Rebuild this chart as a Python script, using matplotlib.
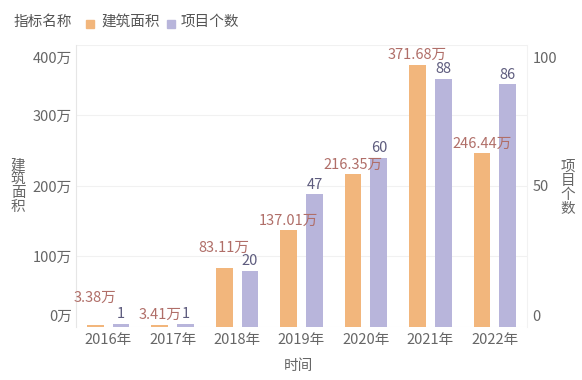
import numpy as np
import matplotlib.pyplot as plt
from matplotlib.patches import Rectangle
from matplotlib.transforms import ScaledTranslation

plt.rcParams['font.family'] = ['Noto Sans CJK SC', 'DejaVu Sans']

years = ['2016年', '2017年', '2018年', '2019年', '2020年', '2021年', '2022年']
area = [3.38, 3.41, 83.11, 137.01, 216.35, 371.68, 246.44]   # 万
count = [1, 1, 20, 47, 60, 88, 86]

ORANGE = '#F2B67C'
PURPLE = '#B8B5DB'
GRAY = '#666666'


def main():
    fig = plt.figure(figsize=(5.82, 3.8), dpi=100)
    ax = fig.add_axes([0.1306, 0.1395, 0.7749, 0.7421])
    ax2 = ax.twinx()

    x = np.arange(len(years))
    w = 0.26
    ax.bar(x - 0.2, area, w, color=ORANGE, zorder=3)
    ax2.bar(x + 0.2, count, w, color=PURPLE, zorder=3)

    ax.set_xlim(-0.5, len(years) - 0.5)
    ax.set_ylim(0, 400)
    ax2.set_ylim(0, 100)

    ax.set_yticks([0, 100, 200, 300, 400])
    ax.set_yticklabels([f'{v}万' for v in [0, 100, 200, 300, 400]])
    ax2.set_yticks([0, 50, 100])
    ax.grid(axis='y', color='#f1f1f1', linewidth=0.8, zorder=0)

    ax.set_xticks(x)
    ax.set_xticklabels(years)

    for a in (ax, ax2):
        a.tick_params(length=0, labelsize=10.5, labelcolor=GRAY)
        for s in a.spines.values():
            s.set_visible(False)
    ax.tick_params(axis='y', pad=3)
    ax2.tick_params(axis='y', pad=4)
    ax.tick_params(axis='x', pad=4)
    ax.spines['left'].set_visible(True)
    ax.spines['left'].set_color('#e6e6e6')
    ax2.spines['right'].set_visible(True)
    ax2.spines['right'].set_color('#f2f2f2')

    # end labels are pulled inside the axis range
    for a in (ax, ax2):
        labs = a.get_yticklabels()
        labs[0].set_transform(labs[0].get_transform()
                              + ScaledTranslation(0, 8.5 / 72, fig.dpi_scale_trans))
        labs[-1].set_transform(labs[-1].get_transform()
                               + ScaledTranslation(0, -9 / 72, fig.dpi_scale_trans))

    # value labels, drawn on the upper axes so bars never cover them
    area_shift = [12, 0, 8, 0, 0, 0, 0]
    for i, v in enumerate(area):
        ax2.annotate(f'{v:.2f}万', (x[i] - 0.2, v), xycoords=ax.transData,
                     xytext=(0, 2 + area_shift[i]), textcoords='offset points',
                     ha='center', va='bottom', fontsize=10.5, color='#B06E68', zorder=5)
    for i, v in enumerate(count):
        ax2.annotate(f'{v}', (x[i] + 0.2, v), xytext=(0, 2),
                     textcoords='offset points', ha='center', va='bottom',
                     fontsize=10.5, color='#5E5C7E', zorder=5)

    fig.text(0.031, 0.51, '建\n筑\n面\n积', ha='center', va='center',
             fontsize=10.5, color=GRAY, linespacing=1.0)
    fig.text(0.976, 0.505, '项\n目\n个\n数', ha='center', va='center',
             fontsize=10.5, color=GRAY, linespacing=1.0)
    fig.text(0.513, 0.037, '时间', ha='center', va='center',
             fontsize=10.5, color=GRAY)

    # legend
    fig.text(0.024, 0.942, '指标名称', ha='left', va='center', fontsize=10.5, color='#555555')
    fig.patches.append(Rectangle((0.148, 0.926), 0.0137, 0.021, transform=fig.transFigure,
                                 color=ORANGE, figure=fig))
    fig.text(0.175, 0.942, '建筑面积', ha='left', va='center', fontsize=10.5, color='#555555')
    fig.patches.append(Rectangle((0.287, 0.926), 0.0137, 0.021, transform=fig.transFigure,
                                 color=PURPLE, figure=fig))
    fig.text(0.310, 0.942, '项目个数', ha='left', va='center', fontsize=10.5, color='#555555')

    fig.savefig('out.png', dpi=100)


if __name__ == "__main__":
    main()
